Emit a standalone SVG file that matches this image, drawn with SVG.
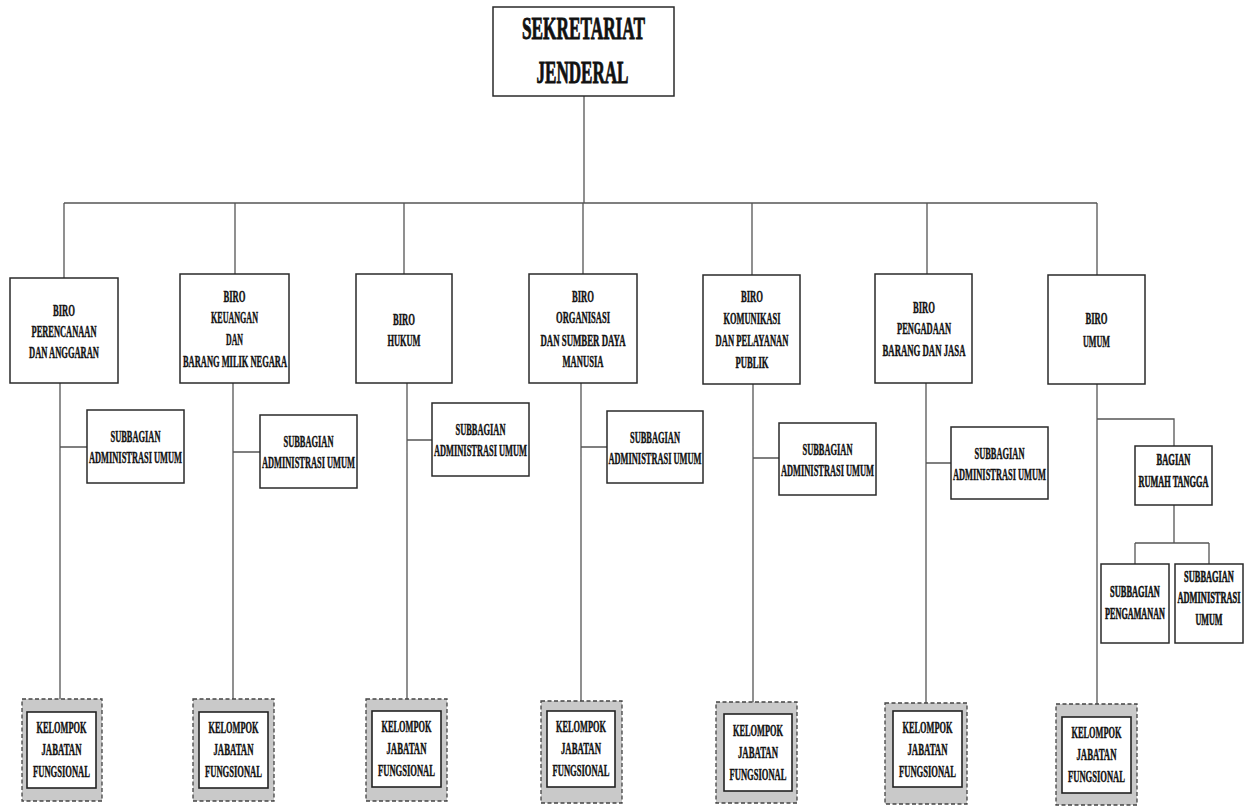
<svg xmlns="http://www.w3.org/2000/svg" width="1250" height="807" viewBox="0 0 1250 807">
<style>
.box{fill:#fff;stroke:#2a2a2a;stroke-width:1.5}
.outer{fill:#c9c9c9;stroke:#444;stroke-width:1.3;stroke-dasharray:4 2.5}
.inner{fill:#fff;stroke:#222;stroke-width:1.6}
.ln{fill:none;stroke:#555;stroke-width:1.3}
text{font-family:"Liberation Serif","Times New Roman",serif;font-weight:bold;font-size:16px;fill:#111;stroke:#111;stroke-width:0.45;text-anchor:middle}
.big{font-size:31px;stroke-width:0.9}
.sq{stroke-width:0.6}
</style>
<rect width="1250" height="807" fill="#fff"/>
<g id="connectors">
<path class="ln" d="M584 96V203M64 203H1097M64 203V278M235 203V274M404 203V274M583 203V274M752 203V275M927 203V274M1097 203V275"/>
<path class="ln" d="M60 383V699M60 447H87M233 383V699M233 452H260M407 383V699M407 440H432M581 383V701M581 447H607M753 384V702M753 458H779M926 383V703M926 463H951"/>
<path class="ln" d="M1097 384V704M1097 419H1174V446M1174 505V543M1135 543H1209M1135 543V564M1209 543V564"/>
</g>
<g id="sekjen">
<rect class="box" x="493" y="7" width="181" height="89"/>
<text class="big" x="583.5" y="39" textLength="123" lengthAdjust="spacingAndGlyphs">SEKRETARIAT</text>
<text class="big" x="582.5" y="83" textLength="92" lengthAdjust="spacingAndGlyphs">JENDERAL</text>
</g>
<g id="biro-perencanaan">
<rect class="box" x="10" y="278" width="108" height="105"/>
<text x="64" y="316" textLength="22" lengthAdjust="spacingAndGlyphs">BIRO</text>
<text x="64" y="337" textLength="65" lengthAdjust="spacingAndGlyphs">PERENCANAAN</text>
<text x="64" y="358" textLength="70" lengthAdjust="spacingAndGlyphs">DAN ANGGARAN</text>
</g>
<g id="biro-keuangan">
<rect class="box" x="180" y="274" width="109" height="109"/>
<text x="234.5" y="302" textLength="22" lengthAdjust="spacingAndGlyphs">BIRO</text>
<text x="234.5" y="323" textLength="47" lengthAdjust="spacingAndGlyphs">KEUANGAN</text>
<text x="234.5" y="345" textLength="17" lengthAdjust="spacingAndGlyphs">DAN</text>
<text x="235" y="367" textLength="104" lengthAdjust="spacingAndGlyphs">BARANG MILIK NEGARA</text>
</g>
<g id="biro-hukum">
<rect class="box" x="356" y="274" width="96" height="109"/>
<text x="404" y="325" textLength="22" lengthAdjust="spacingAndGlyphs">BIRO</text>
<text x="404" y="346" textLength="33" lengthAdjust="spacingAndGlyphs">HUKUM</text>
</g>
<g id="biro-organisasi">
<rect class="box" x="529" y="274" width="108" height="109"/>
<text x="583" y="302" textLength="22" lengthAdjust="spacingAndGlyphs">BIRO</text>
<text x="583" y="323" textLength="54" lengthAdjust="spacingAndGlyphs">ORGANISASI</text>
<text x="583" y="346" textLength="85" lengthAdjust="spacingAndGlyphs">DAN SUMBER DAYA</text>
<text x="583" y="367" textLength="41" lengthAdjust="spacingAndGlyphs">MANUSIA</text>
</g>
<g id="biro-komunikasi">
<rect class="box" x="703" y="275" width="97" height="109"/>
<text x="752" y="302" textLength="22" lengthAdjust="spacingAndGlyphs">BIRO</text>
<text x="752" y="324" textLength="57" lengthAdjust="spacingAndGlyphs">KOMUNIKASI</text>
<text x="752" y="346" textLength="73" lengthAdjust="spacingAndGlyphs">DAN PELAYANAN</text>
<text x="752" y="368" textLength="33" lengthAdjust="spacingAndGlyphs">PUBLIK</text>
</g>
<g id="biro-pengadaan">
<rect class="box" x="875" y="274" width="97" height="109"/>
<text x="924" y="313" textLength="22" lengthAdjust="spacingAndGlyphs">BIRO</text>
<text x="924" y="334" textLength="54" lengthAdjust="spacingAndGlyphs">PENGADAAN</text>
<text x="924" y="356" textLength="83" lengthAdjust="spacingAndGlyphs">BARANG DAN JASA</text>
</g>
<g id="biro-umum">
<rect class="box" x="1048" y="275" width="97" height="109"/>
<text x="1096.5" y="324" textLength="22" lengthAdjust="spacingAndGlyphs">BIRO</text>
<text x="1096.5" y="347" textLength="27" lengthAdjust="spacingAndGlyphs">UMUM</text>
</g>
<g id="sub-1">
<rect class="box" x="87" y="410" width="97" height="73"/>
<text x="135.5" y="442" textLength="50" lengthAdjust="spacingAndGlyphs">SUBBAGIAN</text>
<text x="135.5" y="463" textLength="93" lengthAdjust="spacingAndGlyphs">ADMINISTRASI UMUM</text>
</g>
<g id="sub-2">
<rect class="box" x="260" y="415" width="97" height="73"/>
<text x="308.5" y="447" textLength="50" lengthAdjust="spacingAndGlyphs">SUBBAGIAN</text>
<text x="308.5" y="468" textLength="93" lengthAdjust="spacingAndGlyphs">ADMINISTRASI UMUM</text>
</g>
<g id="sub-3">
<rect class="box" x="432" y="403" width="97" height="73"/>
<text x="480.5" y="435" textLength="50" lengthAdjust="spacingAndGlyphs">SUBBAGIAN</text>
<text x="480.5" y="456" textLength="93" lengthAdjust="spacingAndGlyphs">ADMINISTRASI UMUM</text>
</g>
<g id="sub-4">
<rect class="box" x="607" y="411" width="96" height="72"/>
<text x="655" y="443" textLength="50" lengthAdjust="spacingAndGlyphs">SUBBAGIAN</text>
<text x="655" y="464" textLength="93" lengthAdjust="spacingAndGlyphs">ADMINISTRASI UMUM</text>
</g>
<g id="sub-5">
<rect class="box" x="779" y="423" width="97" height="72"/>
<text x="827.5" y="455" textLength="50" lengthAdjust="spacingAndGlyphs">SUBBAGIAN</text>
<text x="827.5" y="476" textLength="93" lengthAdjust="spacingAndGlyphs">ADMINISTRASI UMUM</text>
</g>
<g id="sub-6">
<rect class="box" x="951" y="427" width="97" height="72"/>
<text x="999.5" y="459" textLength="50" lengthAdjust="spacingAndGlyphs">SUBBAGIAN</text>
<text x="999.5" y="480" textLength="93" lengthAdjust="spacingAndGlyphs">ADMINISTRASI UMUM</text>
</g>
<g id="bagian-rumah-tangga">
<rect class="box" x="1135" y="446" width="77" height="59"/>
<text class="sq" transform="translate(1173.5 465) scale(0.53 1)" textLength="64" lengthAdjust="spacingAndGlyphs">BAGIAN</text>
<text class="sq" transform="translate(1173.5 487) scale(0.53 1)" textLength="132" lengthAdjust="spacingAndGlyphs">RUMAH TANGGA</text>
</g>
<g id="sub-pengamanan">
<rect class="box" x="1101" y="564" width="68" height="79"/>
<text class="sq" transform="translate(1135 597) scale(0.53 1)" textLength="94" lengthAdjust="spacingAndGlyphs">SUBBAGIAN</text>
<text class="sq" transform="translate(1135 619) scale(0.53 1)" textLength="113" lengthAdjust="spacingAndGlyphs">PENGAMANAN</text>
</g>
<g id="sub-adm-umum">
<rect class="box" x="1175" y="564" width="68" height="79"/>
<text class="sq" transform="translate(1209 582) scale(0.53 1)" textLength="94" lengthAdjust="spacingAndGlyphs">SUBBAGIAN</text>
<text class="sq" transform="translate(1209 603) scale(0.53 1)" textLength="119" lengthAdjust="spacingAndGlyphs">ADMINISTRASI</text>
<text class="sq" transform="translate(1209 625) scale(0.53 1)" textLength="51" lengthAdjust="spacingAndGlyphs">UMUM</text>
</g>
<g id="jf-1">
<rect class="outer" x="22" y="699" width="80" height="102"/>
<rect class="inner" x="27" y="712" width="69" height="76"/>
<text x="61.5" y="733" textLength="50" lengthAdjust="spacingAndGlyphs">KELOMPOK</text>
<text x="61.5" y="755" textLength="40" lengthAdjust="spacingAndGlyphs">JABATAN</text>
<text x="61.5" y="777" textLength="57" lengthAdjust="spacingAndGlyphs">FUNGSIONAL</text>
</g>
<g id="jf-2">
<rect class="outer" x="193" y="699" width="81" height="102"/>
<rect class="inner" x="199" y="712" width="69" height="76"/>
<text x="233.5" y="733" textLength="50" lengthAdjust="spacingAndGlyphs">KELOMPOK</text>
<text x="233.5" y="755" textLength="40" lengthAdjust="spacingAndGlyphs">JABATAN</text>
<text x="233.5" y="777" textLength="57" lengthAdjust="spacingAndGlyphs">FUNGSIONAL</text>
</g>
<g id="jf-3">
<rect class="outer" x="366" y="699" width="81" height="102"/>
<rect class="inner" x="372" y="711" width="69" height="76"/>
<text x="406.5" y="732" textLength="50" lengthAdjust="spacingAndGlyphs">KELOMPOK</text>
<text x="406.5" y="754" textLength="40" lengthAdjust="spacingAndGlyphs">JABATAN</text>
<text x="406.5" y="776" textLength="57" lengthAdjust="spacingAndGlyphs">FUNGSIONAL</text>
</g>
<g id="jf-4">
<rect class="outer" x="541" y="701" width="81" height="102"/>
<rect class="inner" x="547" y="711" width="68" height="76"/>
<text x="581" y="732" textLength="50" lengthAdjust="spacingAndGlyphs">KELOMPOK</text>
<text x="581" y="754" textLength="40" lengthAdjust="spacingAndGlyphs">JABATAN</text>
<text x="581" y="776" textLength="57" lengthAdjust="spacingAndGlyphs">FUNGSIONAL</text>
</g>
<g id="jf-5">
<rect class="outer" x="716" y="702" width="81" height="101"/>
<rect class="inner" x="724" y="714" width="68" height="77"/>
<text x="758" y="736" textLength="50" lengthAdjust="spacingAndGlyphs">KELOMPOK</text>
<text x="758" y="758" textLength="40" lengthAdjust="spacingAndGlyphs">JABATAN</text>
<text x="758" y="780" textLength="57" lengthAdjust="spacingAndGlyphs">FUNGSIONAL</text>
</g>
<g id="jf-6">
<rect class="outer" x="885" y="703" width="82" height="101"/>
<rect class="inner" x="893" y="711" width="69" height="76"/>
<text x="927.5" y="733" textLength="50" lengthAdjust="spacingAndGlyphs">KELOMPOK</text>
<text x="927.5" y="755" textLength="40" lengthAdjust="spacingAndGlyphs">JABATAN</text>
<text x="927.5" y="777" textLength="57" lengthAdjust="spacingAndGlyphs">FUNGSIONAL</text>
</g>
<g id="jf-7">
<rect class="outer" x="1056" y="704" width="81" height="101"/>
<rect class="inner" x="1062" y="717" width="69" height="76"/>
<text x="1096.5" y="738" textLength="50" lengthAdjust="spacingAndGlyphs">KELOMPOK</text>
<text x="1096.5" y="760" textLength="40" lengthAdjust="spacingAndGlyphs">JABATAN</text>
<text x="1096.5" y="782" textLength="57" lengthAdjust="spacingAndGlyphs">FUNGSIONAL</text>
</g>
</svg>
